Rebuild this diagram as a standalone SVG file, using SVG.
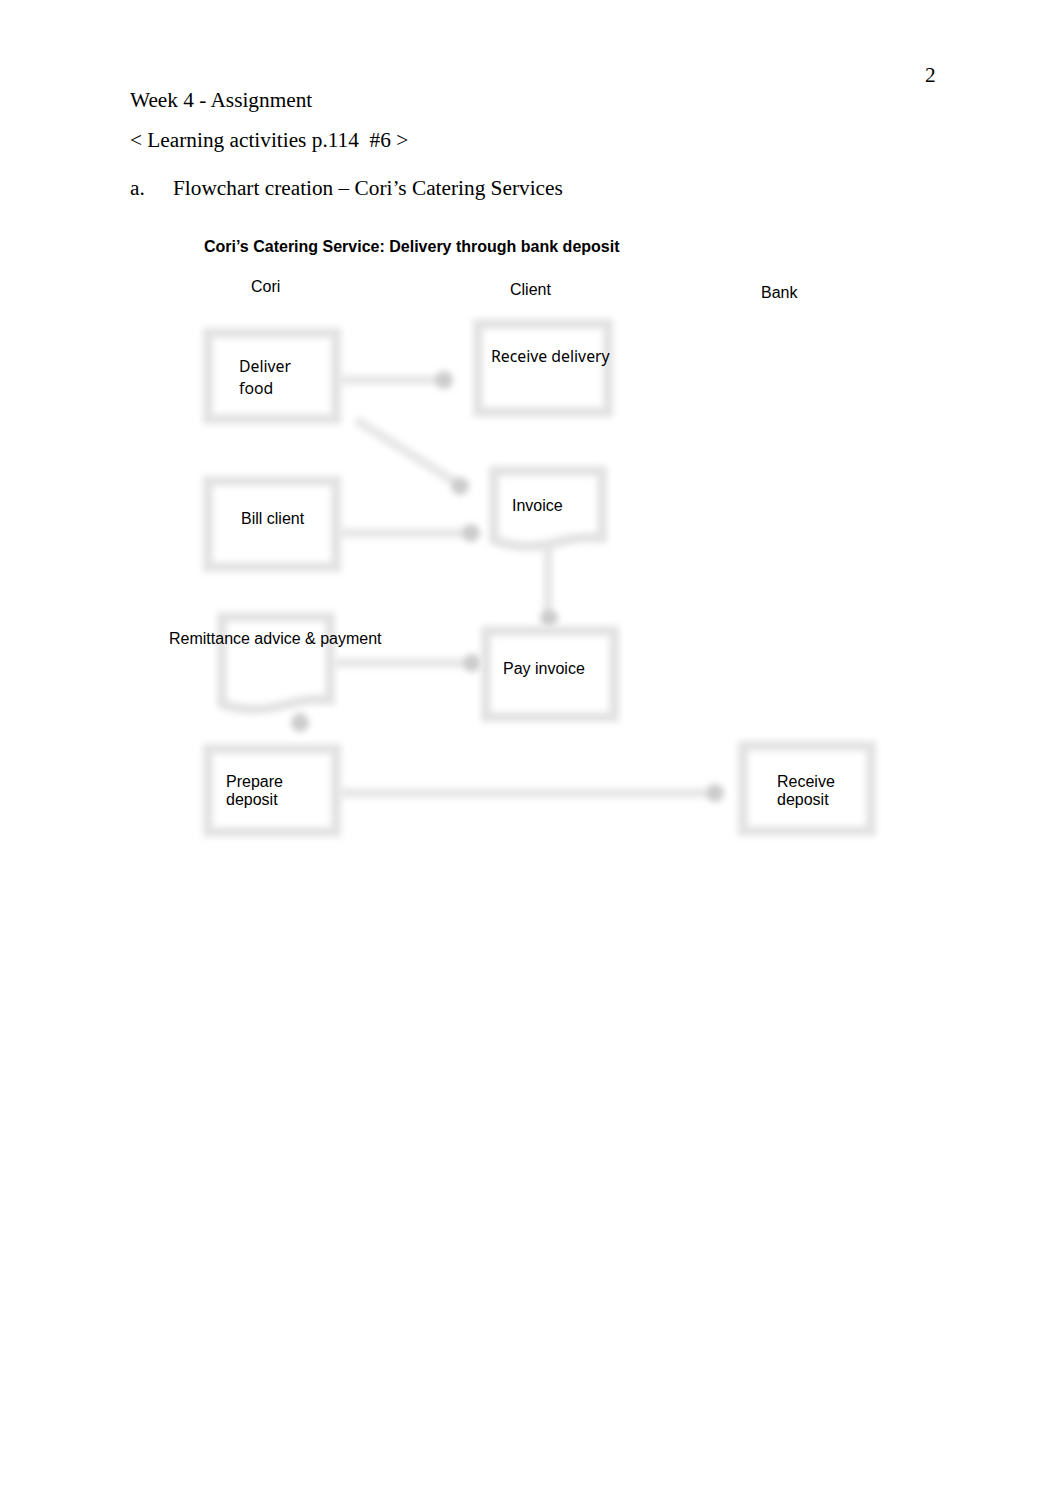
<svg xmlns="http://www.w3.org/2000/svg" width="1062" height="1506" viewBox="0 0 1062 1506">
<style>
.serif{font-family:"Liberation Serif","Times New Roman",serif;font-size:21.3px;fill:#000}
.sans{font-family:"Liberation Sans",Arial,sans-serif;font-size:16px;fill:#000}
.noto{font-family:"Noto Sans","Open Sans",sans-serif;font-size:15.8px;fill:#000}
.box{fill:#fff;stroke:#e2e2e2;stroke-width:10}
.edge{stroke:#e8e8e8;stroke-width:10;fill:none}
.head{fill:#cccccc}
</style>
<defs>
<filter id="blur" x="-20%" y="-20%" width="140%" height="140%"><feGaussianBlur stdDeviation="3.2"/></filter>
</defs>
<rect width="1062" height="1506" fill="#fff"/>
<text class="serif" x="925" y="82">2</text>
<text class="serif" x="130" y="107">Week 4 - Assignment</text>
<text class="serif" x="130" y="147" xml:space="preserve">&lt; Learning activities p.114  #6 &gt;</text>
<text class="serif" x="130" y="195">a.</text>
<text class="serif" x="173" y="195">Flowchart creation – Cori’s Catering Services</text>
<text class="sans" x="204" y="252" font-weight="bold" font-size="16.1">Cori’s Catering Service: Delivery through bank deposit</text>
<text class="sans" x="251" y="292">Cori</text>
<text class="sans" x="510" y="295">Client</text>
<text class="sans" x="761" y="298">Bank</text>
<g id="connectors" filter="url(#blur)">
<line class="edge" x1="340" y1="380" x2="440" y2="380"/><circle class="head" cx="444" cy="380" r="9"/>
<line class="edge" x1="356" y1="420" x2="455" y2="482"/><circle class="head" cx="460" cy="486" r="9"/>
<line class="edge" x1="340" y1="533" x2="466" y2="533"/><circle class="head" cx="471" cy="533" r="9"/>
<line class="edge" x1="548" y1="546" x2="548" y2="612"/><circle class="head" cx="549" cy="618" r="9"/>
<line class="edge" x1="335" y1="663" x2="466" y2="663"/><circle class="head" cx="472" cy="663" r="9"/>
<line class="edge" x1="300" y1="712" x2="300" y2="722"/><circle class="head" cx="300" cy="723" r="9"/>
<line class="edge" x1="340" y1="793" x2="710" y2="793"/><circle class="head" cx="715" cy="793" r="9"/>
</g>
<g id="deliver-food"><rect class="box" x="208" y="333" width="128" height="86" filter="url(#blur)"/><text class="noto" x="239" y="372">Deliver</text><text class="noto" x="239" y="394">food</text></g>
<g id="receive-delivery"><rect class="box" x="478" y="324" width="130" height="88" filter="url(#blur)"/><text class="noto" x="491" y="362">Receive delivery</text></g>
<g id="bill-client"><rect class="box" x="208" y="481" width="128" height="86" filter="url(#blur)"/><text class="sans" x="241" y="524">Bill client</text></g>
<g id="invoice"><path class="box" d="M494 471 H602 V538 C580 536 565 540 550 544 C530 548 510 546 494 540 Z" filter="url(#blur)"/><text class="sans" x="512" y="511">Invoice</text></g>
<g id="remittance"><path class="box" d="M222 617 H330 V700 C310 698 295 702 280 706 C260 711 240 710 222 704 Z" filter="url(#blur)"/><text class="sans" x="169" y="644">Remittance advice &amp; payment</text></g>
<g id="pay-invoice"><rect class="box" x="486" y="631" width="128" height="86" filter="url(#blur)"/><text class="sans" x="503" y="674">Pay invoice</text></g>
<g id="prepare-deposit"><rect class="box" x="208" y="749" width="128" height="83" filter="url(#blur)"/><text class="sans" x="226" y="787">Prepare</text><text class="sans" x="226" y="805">deposit</text></g>
<g id="receive-deposit"><rect class="box" x="743" y="746" width="128" height="85" filter="url(#blur)"/><text class="sans" x="777" y="787">Receive</text><text class="sans" x="777" y="805">deposit</text></g>
</svg>
